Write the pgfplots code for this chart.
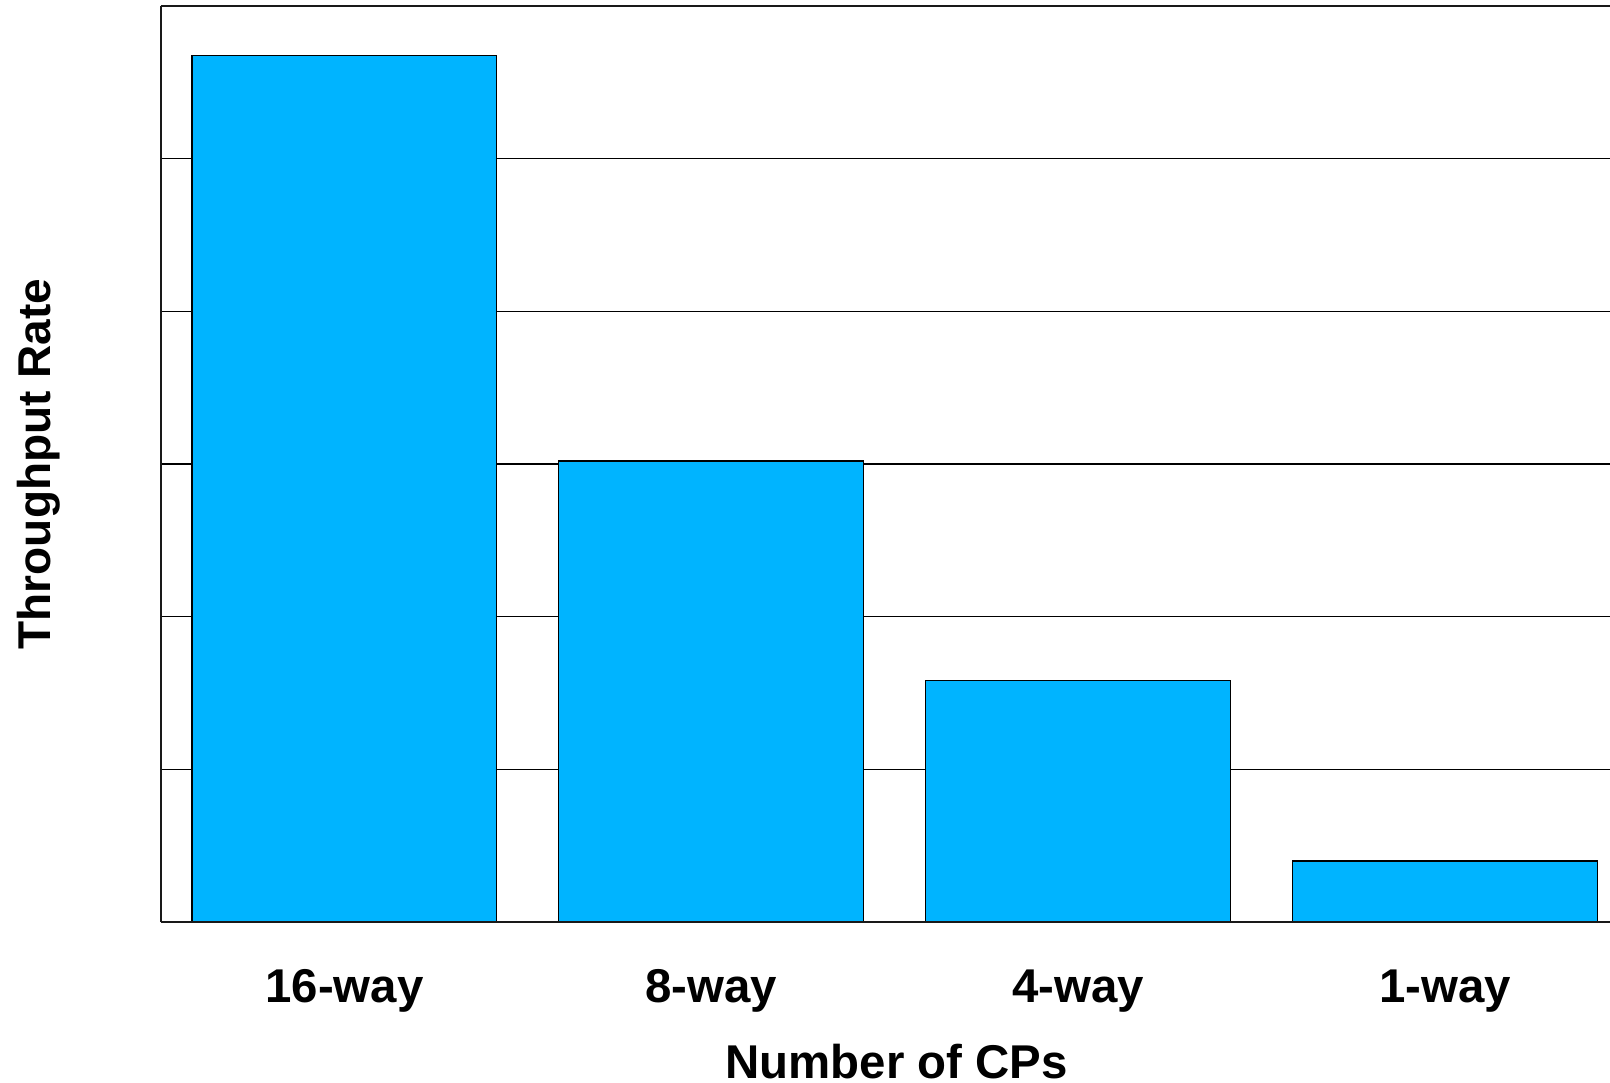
\documentclass[border=0pt]{standalone}
\usepackage{pgfplots}
\pgfplotsset{compat=1.18}
\usepackage{fontspec}
\setmainfont{Liberation Sans}
\definecolor{barblue}{RGB}{0,180,255}
\begin{document}
\begin{tikzpicture}
\path[use as bounding box] (-40.25pt,-40.25pt) rectangle (362.25pt,230.5pt);
\begin{axis}[
  at={(0,0)}, anchor=south west,
  scale only axis, width=362.25pt, height=229pt,
  xmin=-0.5, xmax=3.45, ymin=0, ymax=6,
  axis x line*=bottom, axis y line*=left,
  axis line style={line width=0.6pt, black!90},
  ytick={1,2,3,4,5}, yticklabels={},
  ymajorgrids, grid style={black, line width=0.3pt},
  xtick={0,1,2,3}, xticklabels={16-way,8-way,4-way,1-way},
  major tick length=0pt,
  xticklabel style={font=\bfseries\fontsize{11.85}{14}\selectfont, anchor=base, yshift=-20pt},
  xlabel={Number of CPs},
  xlabel style={font=\bfseries\fontsize{11.85}{14}\selectfont, at={(axis description cs:0.5077,-0.171)}, anchor=base},
  ylabel={Throughput Rate},
  ylabel style={font=\bfseries\fontsize{11.5}{14}\selectfont, at={(axis description cs:-0.0766,0.5)}, anchor=base},
  ybar, bar width=0.831, clip=false,
]
\addplot[fill=barblue, draw=black, line width=0.3pt] coordinates {(0,5.675) (1,3.02) (2,1.58) (3,0.40)};
\draw[line width=0.6pt, black!90] (rel axis cs:0,1) -- (rel axis cs:1,1);
\draw[line width=0.7pt, black!90] (rel axis cs:0,0) -- (rel axis cs:1,0);
\end{axis}
\end{tikzpicture}
\end{document}
